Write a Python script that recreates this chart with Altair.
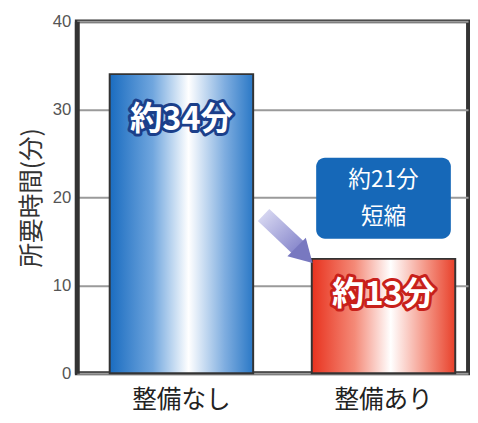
import altair as alt
import pandas as pd

categories = ["整備なし", "整備あり"]
values = [34, 13]
bar_labels = ["約34分", "約13分"]
note_text = "約21分\n短縮"
note_range = [15.3, 24.5]
y_ticks = [0, 10, 20, 30, 40]
y_title = "所要時間(分)"

df = pd.DataFrame({"cat": categories, "val": values, "label": bar_labels})
note_df = pd.DataFrame({"cat": [categories[1]], "y1": [note_range[0]], "y2": [note_range[1]],
                        "ymid": [sum(note_range) / 2], "text": [note_text]})

JP = "Noto Sans CJK JP"

xscale = alt.Scale(domain=categories, paddingInner=0.29, paddingOuter=0.113, align=0.72)
x = alt.X("cat:N", scale=xscale, sort=categories,
          axis=alt.Axis(title=None, labelAngle=0, labelFontSize=25, labelFont=JP,
                        labelColor="#222", labelPadding=15, ticks=False, domain=False))
yscale = alt.Scale(domain=[0, 40], nice=False)
y = alt.Y("val:Q", scale=yscale,
          axis=alt.Axis(title=y_title, values=y_ticks, titleFont=JP, titleFontSize=25,
                        titleFontWeight="normal", titleColor="#333", titlePadding=8,
                        labelFont="Liberation Sans", labelFontSize=17, labelColor="#555",
                        labelPadding=6, ticks=False,
                        gridColor="#9a9a9a", gridWidth=2, domainColor="#333", domainWidth=5))

base = alt.Chart(df)

blue_grad = alt.Gradient(gradient="linear", x1=0, x2=1, y1=0, y2=0, stops=[
    alt.GradientStop(color="#1a6cc0", offset=0),
    alt.GradientStop(color="#70a6de", offset=0.3),
    alt.GradientStop(color="#ffffff", offset=0.55),
    alt.GradientStop(color="#80aee0", offset=0.8),
    alt.GradientStop(color="#2a78c6", offset=1)])
red_grad = alt.Gradient(gradient="linear", x1=0, x2=1, y1=0, y2=0, stops=[
    alt.GradientStop(color="#e8321e", offset=0),
    alt.GradientStop(color="#f48a78", offset=0.3),
    alt.GradientStop(color="#ffffff", offset=0.55),
    alt.GradientStop(color="#f49484", offset=0.8),
    alt.GradientStop(color="#e8402a", offset=1)])

bar_blue = base.transform_filter(alt.datum.cat == categories[0]).mark_bar(
    color=blue_grad, stroke="#333", strokeWidth=2).encode(x=x, y=y)
bar_red = base.transform_filter(alt.datum.cat == categories[1]).mark_bar(
    color=red_grad, stroke="#333", strokeWidth=2).encode(x=x, y=y)

def label(i, outline, dy):
    b = base.transform_filter(alt.datum.cat == categories[i])
    o = b.mark_text(font=JP, fontSize=33, fontWeight="bold", stroke=outline, strokeWidth=6,
                    fill=outline, baseline="middle", dy=dy, strokeJoin="round").encode(
        x="cat:N", y="val:Q", text="label:N")
    f = b.mark_text(font=JP, fontSize=33, fontWeight="bold", fill="white",
                    baseline="middle", dy=dy).encode(x="cat:N", y="val:Q", text="label:N")
    return o + f

lab_blue = label(0, "#1b3f8a", 47)
lab_red = label(1, "#c8201a", 37)

note_box = alt.Chart(note_df).mark_bar(color="#1668b8", cornerRadius=9, width=137).encode(
    x="cat:N", y="y1:Q", y2="y2:Q")
note_txt = alt.Chart(note_df).mark_text(font=JP, fontSize=23, color="white",
                                        lineBreak="\n", lineHeight=37, baseline="middle",
                                        dy=-18).encode(
    x="cat:N", y="ymid:Q", text="text:N")

arrow_grad = alt.Gradient(gradient="linear", x1=0, x2=1, y1=0, y2=1, stops=[
    alt.GradientStop(color="#d4d4f0", offset=0),
    alt.GradientStop(color="#8888cc", offset=1)])
arrow_shaft = alt.Chart(note_df).mark_rule(stroke=arrow_grad, strokeWidth=17).encode(
    x=alt.value(190), x2=alt.value(226), y=alt.value(197), y2=alt.value(231))
arrow_head = alt.Chart(note_df).mark_point(shape="triangle", filled=True, color="#7878c0",
                                           size=700, angle=135, opacity=1).encode(
    x=alt.value(229), y=alt.value(235))

chart = alt.layer(bar_blue, bar_red, lab_blue, lab_red, arrow_shaft, arrow_head,
                  note_box, note_txt).properties(
    width=398, height=358,
    autosize=alt.AutoSizeParams(type="none"),
    padding={"left": 70, "top": 10, "right": 2, "bottom": 45},
    background="white",
).configure_view(stroke="#333", strokeWidth=4)

chart.save("out.html", embed_options={"renderer": "svg", "actions": False})
